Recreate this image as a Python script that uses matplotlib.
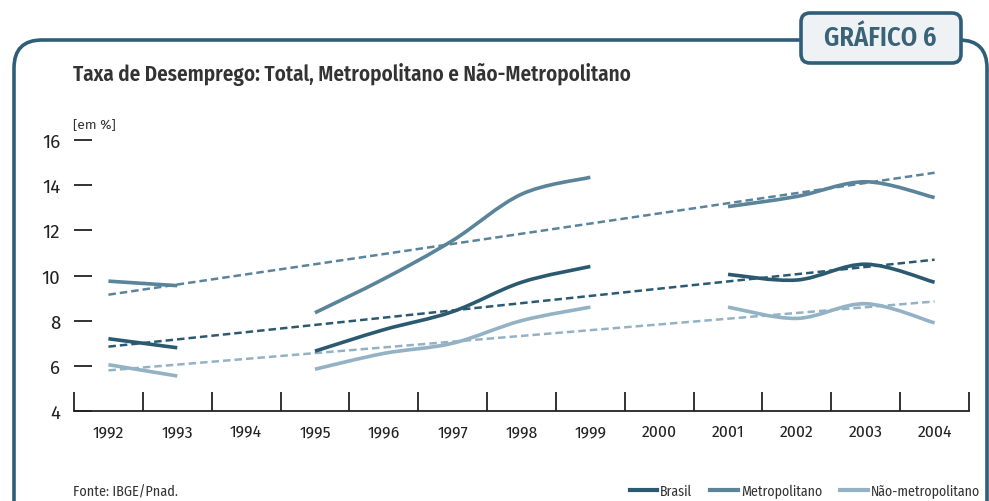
import numpy as np
import matplotlib
matplotlib.use("Agg")
import matplotlib.pyplot as plt
from matplotlib.path import Path
from matplotlib.patches import PathPatch, FancyBboxPatch
from matplotlib.lines import Line2D
from matplotlib.transforms import IdentityTransform

# ---------------- data ----------------
years = ["1992", "1993", "1994", "1995", "1996", "1997", "1998",
         "1999", "2000", "2001", "2002", "2003", "2004"]
# None = no survey that year (line is broken)
brasil = [7.2, 6.8, None, 6.65, 7.6, 8.4, 9.7, 10.4, None, 10.05, 9.8, 10.5, 9.7]
metropolitano = [9.75, 9.55, None, 8.35, 9.85, 11.55, 13.6, 14.35, None, 13.05, 13.5, 14.15, 13.45]
nao_metropolitano = [6.05, 5.55, None, 5.85, 6.55, 7.0, 8.0, 8.6, None, 8.6, 8.1, 8.75, 7.9]
# linear trend lines (value at 1992, value at 2004)
trend_brasil = [6.85, 10.7]
trend_metro = [9.15, 14.55]
trend_nao = [5.8, 8.85]
yticks = [4, 6, 8, 10, 12, 14, 16]

series_names = ["Brasil", "Metropolitano", "Não-metropolitano"]
colors = ["#2b5a70", "#5a8499", "#93b2c4"]
frame_col = "#2f5f78"

COND = ["Fira Sans Condensed", "DejaVu Sans"]
REG = ["Fira Sans", "DejaVu Sans"]

fig = plt.figure(figsize=(9.89, 5.02), dpi=100)
ax = fig.add_axes([74 / 989, (502 - 412) / 502, (969 - 74) / 989, (412 - 141) / 502])
ax.set_xlim(-0.5, len(years) - 0.5)
ax.set_ylim(4, 16)


def segments(vals):
    segs, cur = [], []
    for i, v in enumerate(vals):
        if v is None:
            if cur:
                segs.append(cur)
            cur = []
        else:
            cur.append((i, v))
    if cur:
        segs.append(cur)
    return segs


def smooth_path(pts):
    pts = np.asarray(pts, float)
    if len(pts) < 3:
        return Path(pts)
    verts = [pts[0]]
    codes = [Path.MOVETO]
    n = len(pts)
    for i in range(n - 1):
        p0 = pts[i - 1] if i > 0 else pts[i]
        p1 = pts[i]
        p2 = pts[i + 1]
        p3 = pts[i + 2] if i + 2 < n else pts[i + 1]
        c1 = p1 + (p2 - p0) / 6.0
        c2 = p2 - (p3 - p1) / 6.0
        verts += [c1, c2, p2]
        codes += [Path.CURVE4] * 3
    return Path(verts, codes)


for vals, trend, col in [(nao_metropolitano, trend_nao, colors[2]),
                         (metropolitano, trend_metro, colors[1]),
                         (brasil, trend_brasil, colors[0])]:
    ax.plot([0, len(years) - 1], trend, ls=(0, (3, 1.6)), color=col, lw=1.8, zorder=2)
    for seg in segments(vals):
        ax.add_patch(PathPatch(smooth_path(seg), fill=False, edgecolor=col, lw=2.6,
                               capstyle="butt", zorder=3))

# axes styling
for s in ["left", "top", "right"]:
    ax.spines[s].set_visible(False)
ax.spines["bottom"].set_color("#222222")
ax.spines["bottom"].set_linewidth(1.3)
ax.set_yticks(yticks)
ax.set_yticklabels([str(t) for t in yticks], fontsize=13.5, color="#222222", family=REG)
ax.tick_params(axis="y", direction="in", length=13, width=1.3, color="#222222", pad=10)
ax.set_xticks(range(len(years)))
ax.set_xticklabels(years, fontsize=12.5, color="#222222", family=COND)
ax.tick_params(axis="x", which="major", length=0, pad=9)
ax.set_xticks(np.arange(-0.5, len(years), 1.0), minor=True)
ax.tick_params(axis="x", which="minor", direction="in", length=14, width=1.3, color="#222222")

# y unit label
fig.text(73 / 989, (502 - 125) / 502, "[em %]", fontsize=9.8, color="#333333",
         family=REG, va="center", ha="left")

# title
fig.text(73 / 989, (502 - 75) / 502, "Taxa de Desemprego: Total, Metropolitano e Não-Metropolitano",
         fontsize=15.2, fontweight="semibold", color="#333333", family=COND, va="center", ha="left")

# source
fig.text(73 / 989, (502 - 492) / 502, "Fonte: IBGE/Pnad.", fontsize=10.2, color="#333333",
         family=COND, va="center", ha="left")

# legend
handles = [Line2D([], [], color=c, lw=3) for c in colors]
fig.legend(handles, series_names, loc="center right", bbox_to_anchor=(980 / 989, (502 - 492) / 502),
           ncol=3, frameon=False, handlelength=2.0, handletextpad=0.2, columnspacing=1.3,
           prop={"family": COND, "size": 10}, borderaxespad=0, borderpad=0,
           labelcolor="#333333")

# frame (pixel coordinates)
frame = FancyBboxPatch((14, -30), 973, 502 - 41 + 30,
                       boxstyle="round,pad=0,rounding_size=28",
                       transform=IdentityTransform(), fill=False,
                       edgecolor=frame_col, lw=2.6, zorder=5)
fig.add_artist(frame)
tab = FancyBboxPatch((801, 502 - 64), 160, 50,
                     boxstyle="round,pad=0,rounding_size=9",
                     transform=IdentityTransform(), facecolor="#eef2f5",
                     edgecolor=frame_col, lw=2.6, zorder=6)
fig.add_artist(tab)
fig.text(880 / 989, (502 - 38) / 502, "GRÁFICO 6", fontsize=19, fontweight="semibold",
         color="#3a6378", family=COND, ha="center", va="center", zorder=7)

fig.savefig("out.png", dpi=100)
